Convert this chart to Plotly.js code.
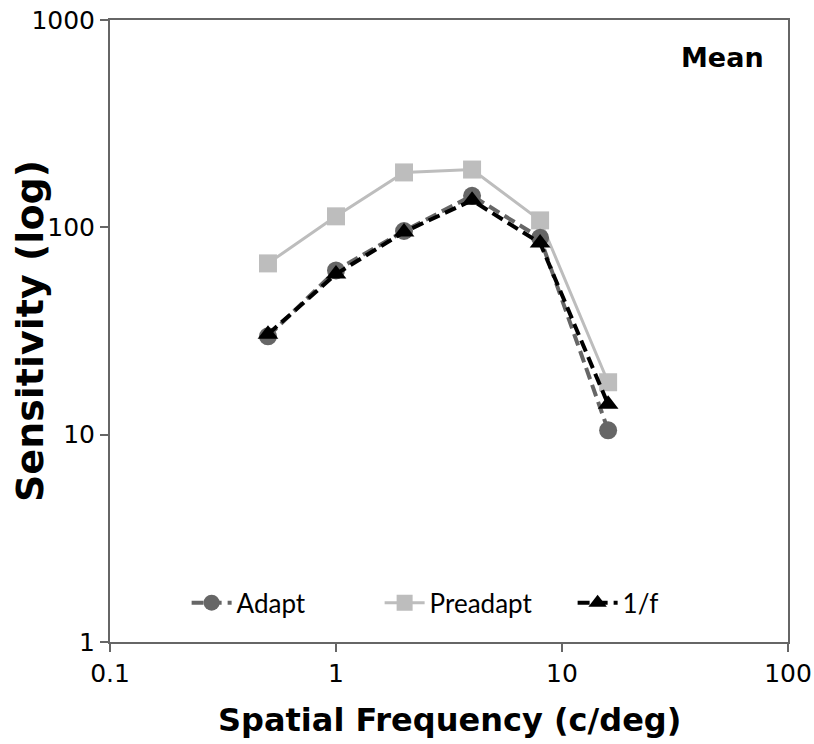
<!DOCTYPE html>
<html>
<head>
<meta charset="utf-8">
<script src="https://cdn.plot.ly/plotly-3.0.1.min.js"></script>
<style>html,body{margin:0;padding:0;background:#fff;}</style>
</head>
<body>
<div id="chart" style="width:814px;height:744px;"></div>
<script>
const freq = [0.5, 1, 2, 4, 8, 16];
const adapt = [29.8, 62, 96, 142, 89, 10.5];
const preadapt = [67, 113, 184, 190, 108, 17.9];
const invF = [30.5, 59.5, 95, 135, 84, 14];
const xTicks = [0.1, 1, 10, 100];
const yTicks = [1, 10, 100, 1000];

const traces = [
  {x: freq, y: preadapt, name: 'Preadapt', mode: 'lines+markers', legendrank: 2,
   line: {color: '#bdbdbd', width: 3},
   marker: {symbol: 'square', size: 18, color: '#bdbdbd'}},
  {x: freq, y: adapt, name: 'Adapt', mode: 'lines+markers', legendrank: 1,
   line: {color: '#666666', width: 4, dash: '12px,6px'},
   marker: {symbol: 'circle', size: 18, color: '#666666'}},
  {x: freq, y: invF, name: '1/f', mode: 'lines+markers', legendrank: 3,
   line: {color: '#000000', width: 4, dash: '12px,6px'},
   marker: {symbol: 'triangle-up', size: 18, color: '#000000'}}
];

const tfont = '"DejaVu Sans", sans-serif';
const layout = {
  width: 814, height: 744,
  margin: {l: 110, r: 26, t: 20, b: 102},
  paper_bgcolor: '#fff', plot_bgcolor: '#fff',
  showlegend: true,
  legend: {orientation: 'h', x: 0.54, xanchor: 'center', y: 0.063, yanchor: 'middle',
    font: {family: 'Lato, "Noto Sans", sans-serif', size: 26, color: '#000'},
    bgcolor: 'rgba(0,0,0,0)', itemwidth: 40, traceorder: 'normal',
    entrywidth: 138, entrywidthmode: 'pixels'},
  xaxis: {type: 'log', range: [-1, 2], tickvals: xTicks, ticktext: xTicks.map(String),
    showgrid: false, zeroline: false, showline: true, mirror: true,
    linecolor: '#666', linewidth: 2, ticks: 'outside', ticklen: 8, tickcolor: '#666', tickwidth: 2,
    tickfont: {family: tfont, size: 25, color: '#000'}},
  yaxis: {type: 'log', range: [0, 3], tickvals: yTicks, ticktext: yTicks.map(String),
    showgrid: false, zeroline: false, showline: true, mirror: true,
    linecolor: '#666', linewidth: 2, ticks: 'outside', ticklen: 8, tickcolor: '#666', tickwidth: 2,
    tickfont: {family: tfont, size: 25, color: '#000'}},
  annotations: [
    {text: '<b>Mean</b>', xref: 'paper', yref: 'paper', x: 0.968, y: 0.94,
     xanchor: 'right', yanchor: 'middle', showarrow: false,
     font: {family: tfont, size: 27, color: '#000'}},
    {text: '<b>Spatial Frequency (c/deg)</b>', xref: 'paper', yref: 'paper', x: 0.5, y: -0.125,
     xanchor: 'center', yanchor: 'middle', showarrow: false,
     font: {family: tfont, size: 32, color: '#000'}},
    {text: '<b>Sensitivity (log)</b>', xref: 'paper', yref: 'paper', x: -0.118, y: 0.5,
     xanchor: 'center', yanchor: 'middle', showarrow: false, textangle: -90,
     font: {family: tfont, size: 38, color: '#000'}}
  ]
};

Plotly.newPlot('chart', traces, layout, {displayModeBar: false, staticPlot: true});
</script>
</body>
</html>
